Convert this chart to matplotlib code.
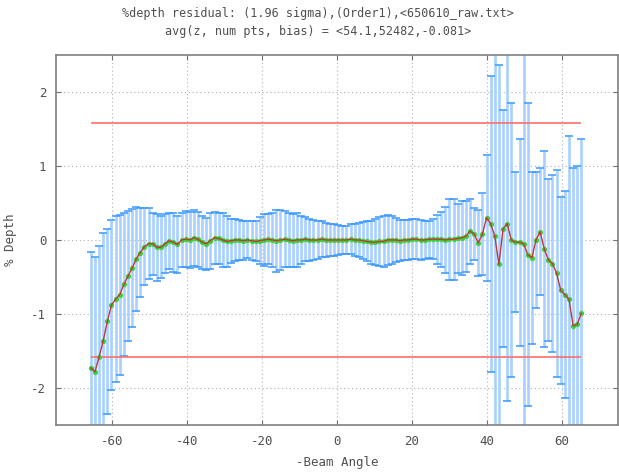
import numpy as np
import matplotlib
matplotlib.use("Agg")
import matplotlib.pyplot as plt
import matplotlib.ticker as mticker

# beam angle of each sample (deg)
angle = [-65.7, -64.6, -63.5, -62.4, -61.3, -60.2, -59.1, -58.0, -56.9, -55.8,
         -54.7, -53.6, -52.5, -51.4, -50.3, -49.2, -48.1, -47.0, -45.9, -44.8,
         -43.7, -42.6, -41.5, -40.4, -39.3, -38.2, -37.1, -36.0, -34.9, -33.8,
         -32.7, -31.6, -30.5, -29.4, -28.3, -27.2, -26.1, -25.0, -23.9, -22.8,
         -21.7, -20.6, -19.5, -18.4, -17.3, -16.2, -15.1, -14.0, -12.9, -11.8,
         -10.7, -9.6, -8.5, -7.4, -6.3, -5.2, -4.1, -3.0, -1.9, -0.8,
         0.3, 1.4, 2.5, 3.6, 4.7, 5.8, 6.9, 8.0, 9.1, 10.2,
         11.3, 12.4, 13.5, 14.6, 15.7, 16.8, 17.9, 19.0, 20.1, 21.2,
         22.3, 23.4, 24.5, 25.6, 26.7, 27.8, 28.9, 30.0, 31.1, 32.2,
         33.3, 34.4, 35.5, 36.6, 37.7, 38.8, 39.9, 41.0, 42.1, 43.2,
         44.3, 45.4, 46.5, 47.6, 48.7, 49.8, 50.9, 52.0, 53.1, 54.2,
         55.3, 56.4, 57.5, 58.6, 59.7, 60.8, 61.9, 63.0, 64.1, 65.2]

# mean % depth residual
depth = [-1.73, -1.78, -1.58, -1.36, -1.10, -0.88, -0.80, -0.74, -0.60, -0.49,
         -0.38, -0.26, -0.17, -0.09, -0.05, -0.05, -0.10, -0.10, -0.05, -0.01,
         -0.03, -0.06, 0.00, 0.01, 0.00, 0.03, 0.01, -0.03, -0.05, -0.01,
         0.03, 0.02, 0.00, -0.02, -0.01, 0.00, 0.00, -0.01, 0.00, -0.01,
         -0.02, -0.01, 0.00, 0.01, 0.00, -0.01, 0.00, 0.01, 0.00, -0.01,
         0.00, 0.00, 0.01, 0.00, 0.00, 0.00, 0.01, 0.00, 0.00, 0.00,
         0.00, 0.00, 0.00, 0.01, 0.00, 0.00, -0.01, -0.02, -0.03, -0.03,
         -0.02, -0.02, 0.00, 0.00, 0.00, -0.01, 0.00, 0.00, 0.01, 0.01,
         0.00, 0.00, 0.01, 0.01, 0.01, 0.01, 0.00, 0.01, 0.01, 0.02,
         0.03, 0.05, 0.12, 0.08, -0.04, 0.08, 0.30, 0.22, 0.05, -0.33,
         0.15, 0.22, 0.00, -0.03, -0.03, -0.05, -0.20, -0.24, 0.00, 0.11,
         -0.12, -0.27, -0.32, -0.45, -0.68, -0.74, -0.80, -1.16, -1.14, -0.99]

# 1.96 sigma half width
err = [1.57, 1.55, 1.50, 1.45, 1.25, 1.15, 1.12, 1.08, 0.97, 0.88,
       0.80, 0.70, 0.60, 0.52, 0.48, 0.42, 0.45, 0.42, 0.40, 0.38,
       0.40, 0.38, 0.36, 0.38, 0.38, 0.38, 0.37, 0.36, 0.35, 0.38,
       0.35, 0.34, 0.36, 0.35, 0.30, 0.28, 0.27, 0.26, 0.25, 0.26,
       0.27, 0.32, 0.35, 0.34, 0.37, 0.42, 0.40, 0.38, 0.37, 0.36,
       0.36, 0.32, 0.30, 0.28, 0.27, 0.26, 0.24, 0.23, 0.22, 0.21,
       0.20, 0.19, 0.19, 0.20, 0.21, 0.23, 0.25, 0.27, 0.29, 0.31,
       0.33, 0.34, 0.34, 0.33, 0.30, 0.28, 0.27, 0.27, 0.27, 0.27,
       0.27, 0.26, 0.25, 0.27, 0.33, 0.37, 0.45, 0.55, 0.55, 0.47,
       0.50, 0.48, 0.44, 0.35, 0.45, 0.56, 0.85, 2.00, 2.80, 2.70,
       1.60, 2.40, 1.85, 0.95, 1.40, 2.80, 2.05, 1.16, 0.92, 0.86,
       1.32, 1.10, 1.20, 1.40, 1.26, 1.40, 2.20, 2.13, 2.14, 2.35]

limit = 1.58
title = "%depth residual: (1.96 sigma),(Order1),<650610_raw.txt>\navg(z, num pts, bias) = <54.1,52482,-0.081>"

plt.rcParams['font.family'] = ['DejaVu Sans Mono']
plt.rcParams['axes.unicode_minus'] = False

fig = plt.figure(figsize=(6.19, 4.75), dpi=100)
ax = fig.add_axes([0.0905, 0.1053, 0.908, 0.779])

eb = ax.errorbar(angle, depth, yerr=err, fmt='none', ecolor='#a9d1ff',
                 elinewidth=1.9, capsize=2.6, capthick=1.1, zorder=2)
for cap in eb[1]:
    cap.set_markeredgecolor('#3a98ff')
    cap.set_color('#3a98ff')

ax.hlines([limit, -limit], angle[0], angle[-1], color='#ff6e6e', lw=1.2, zorder=3)

ax.plot(angle, depth, 'o', ms=3.8, mfc='#3fcf3f', mec='none', zorder=4)
ax.plot(angle, depth, '-', color='#c03838', lw=1.0, zorder=5)

ax.set_xlim(-75, 75)
ax.set_ylim(-2.5, 2.5)
ax.xaxis.set_major_locator(mticker.MultipleLocator(20))
ax.yaxis.set_major_locator(mticker.MultipleLocator(1))
ax.grid(True, color='#b0b0b0', lw=0.8, linestyle=(0, (1, 2.5)))
ax.set_axisbelow(True)

for s in ax.spines.values():
    s.set_color('#808080')
    s.set_linewidth(1.2)
ax.tick_params(direction='in', top=True, right=True, length=3.5,
               color='#707070', labelcolor='#505050', labelsize=9, pad=7)

ax.set_xlabel('-Beam Angle', color='#505050', fontsize=9, labelpad=6)
ax.set_ylabel('% Depth', color='#505050', fontsize=9, labelpad=10)
fig.text(0.514, 0.985, title, ha='center', va='top', fontsize=8.5,
         color='#505050', linespacing=1.45)

fig.savefig('out.png', dpi=100)
